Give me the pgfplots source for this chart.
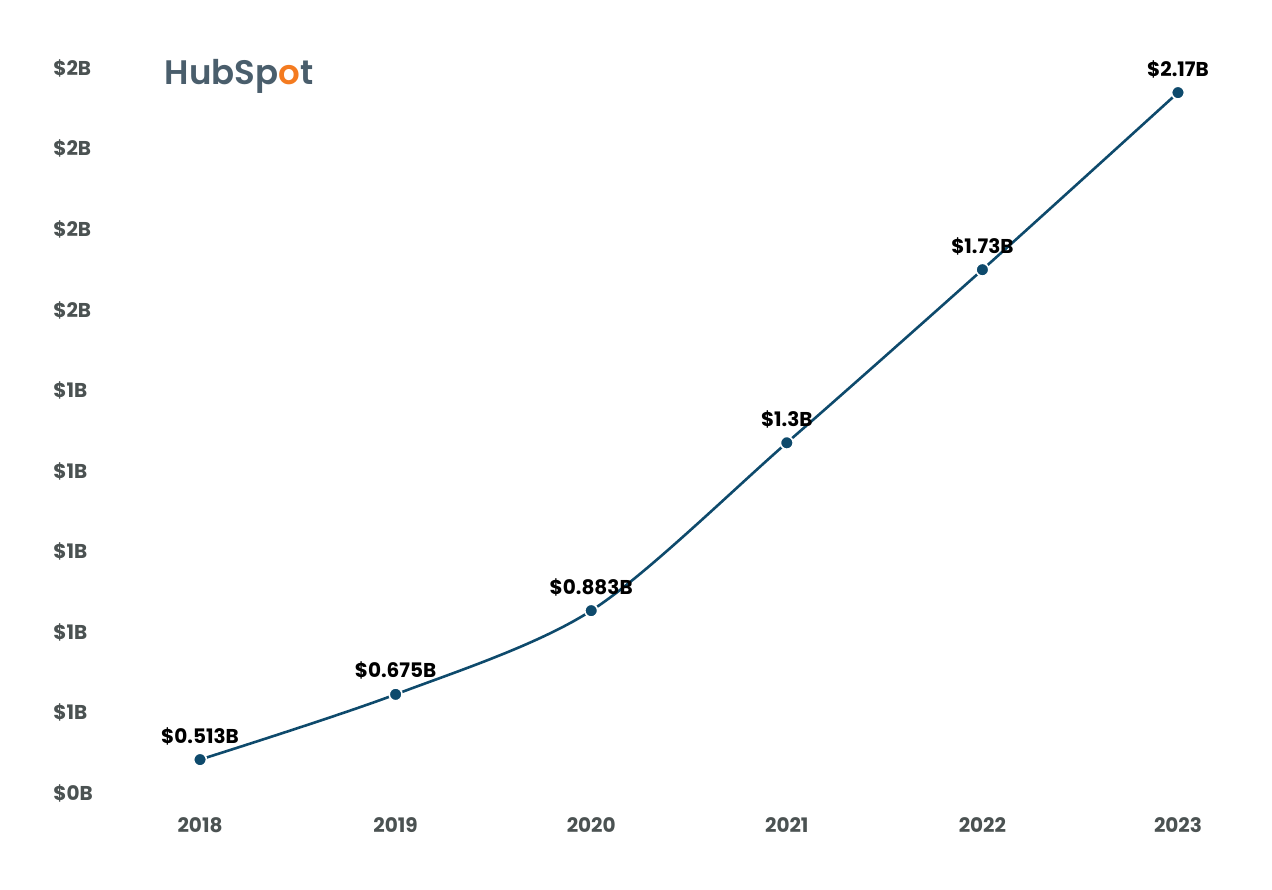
\documentclass[border=0pt]{standalone}
\usepackage{fontspec}
\setmainfont{Poppins}
\newfontfamily\logofont{Poppins SemiBold}
\usepackage{pgfplots}
\pgfplotsset{compat=1.18}
\definecolor{linecol}{HTML}{0E4A6C}
\definecolor{tickcol}{HTML}{4B5252}
\definecolor{logogray}{HTML}{4A5E6C}
\definecolor{logoorange}{HTML}{F47B20}
\begin{document}
\begin{tikzpicture}
\useasboundingbox (0,0) rectangle (636pt,444.5pt);
\begin{axis}[
  at={(60.9pt,48pt)}, anchor=south west,
  scale only axis, width=567.2pt, height=366.3pt,
  xmin=2017.6, xmax=2023.4, ymin=0.43, ymax=2.25,
  axis line style={draw=none},
  tick style={draw=none},
  xtick pos=bottom, ytick pos=left,
  clip=false,
  xtick={2018,2019,2020,2021,2022,2023},
  xticklabels={2018,2019,2020,2021,2022,2023},
  ytick={0.43,0.63,0.83,1.03,1.23,1.43,1.63,1.83,2.03,2.23},
  yticklabels={\$0B,\$1B,\$1B,\$1B,\$1B,\$1B,\$2B,\$2B,\$2B,\$2B},
  major tick length=0pt,
  yticklabel style={anchor=west, xshift=-34.4pt, inner sep=0pt, font=\fontsize{10}{12}\selectfont\bfseries, text=tickcol},
  xticklabel style={anchor=north, yshift=-12pt, inner sep=0pt, font=\fontsize{10}{12}\selectfont\bfseries, text=tickcol},
  nodes near coords,
  point meta=explicit symbolic,
  every node near coord/.style={anchor=south, yshift=6pt, inner sep=1pt, font=\fontsize{10}{12}\selectfont\bfseries, text=black},
]
\addplot[color=linecol, line width=1.3pt, smooth, tension=0.5,
  mark=*, mark size=3.2pt, mark options={fill=linecol, draw=white, line width=0.8pt}]
  coordinates {
  (2018,0.513) [\$0.513B]
  (2019,0.675) [\$0.675B]
  (2020,0.883) [\$0.883B]
  (2021,1.3) [\$1.3B]
  (2022,1.73) [\$1.73B]
  (2023,2.17) [\$2.17B]
  };
\end{axis}
\node[anchor=center, inner sep=0pt, font=\fontsize{17}{20}\selectfont\logofont, text=logogray] at (119.5pt,406.5pt) {HubSp\textcolor{logoorange}{o}t};
\end{tikzpicture}
\end{document}
